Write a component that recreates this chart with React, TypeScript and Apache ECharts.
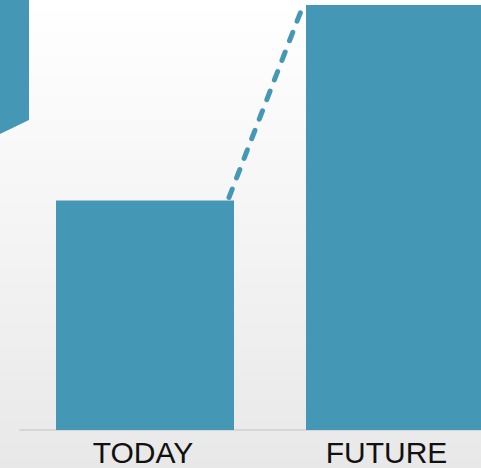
import React, { useEffect, useRef } from "react";
import * as echarts from "echarts";

const categories: string[] = ["TODAY", "FUTURE"];
const values: number[] = [54, 100];
const yMax = 100;

const BAR_COLOR = "#4498b6";
const BAR_WIDTH = 178;

export default function App() {
  const ref = useRef<HTMLDivElement>(null);

  useEffect(() => {
    if (!ref.current) return;
    const chart = echarts.init(ref.current, undefined, { renderer: "svg" });
    chart.setOption({
      animation: false,
      backgroundColor: {
        type: "linear",
        x: 0,
        y: 0,
        x2: 0,
        y2: 1,
        colorStops: [
          { offset: 0, color: "#ffffff" },
          { offset: 0.5, color: "#f4f4f4" },
          { offset: 1, color: "#e8e8e8" },
        ],
      },
      grid: { left: 20, right: 0, top: 5, bottom: 38 },
      graphic: [
        {
          type: "polygon",
          shape: { points: [[0, 0], [29, 0], [29, 120], [0, 134]] },
          style: { fill: BAR_COLOR },
          z: 10,
        },
      ],
      xAxis: {
        type: "category",
        data: categories,
        axisTick: { show: false },
        axisLine: { show: true, lineStyle: { color: "#cfcfcf", width: 1.5 } },
        axisLabel: {
          margin: 7,
          formatter: (v: string) => (v === "TODAY" ? `{a|${v}}` : `{b|${v}}`),
          rich: {
            a: {
              fontFamily: "Liberation Sans, Arial, sans-serif",
              fontSize: 30,
              color: "#111111",
              padding: [0, 4, 0, 0],
            },
            b: {
              fontFamily: "Liberation Sans, Arial, sans-serif",
              fontSize: 30,
              color: "#111111",
              padding: [0, 17, 0, 0],
            },
          },
        },
      },
      yAxis: {
        type: "value",
        min: 0,
        max: yMax,
        show: false,
        splitLine: { show: false },
      },
      series: [
        {
          type: "bar",
          data: values,
          barWidth: BAR_WIDTH,
          itemStyle: { color: BAR_COLOR },
          z: 2,
        },
        {
          type: "custom",
          clip: false,
          z: 3,
          data: [[0, values[0], 1, values[1]]],
          encode: { x: [0, 2], y: [1, 3] },
          renderItem: (params: any, api: any) => {
            const p0 = api.coord([api.value(0), api.value(1)]);
            const p1 = api.coord([api.value(2), api.value(3)]);
            return {
              type: "line",
              shape: {
                x1: p0[0] + BAR_WIDTH / 2 - 5,
                y1: p0[1] - 3,
                x2: p1[0] - BAR_WIDTH / 2 - 5,
                y2: p1[1] + 6,
              },
              style: {
                stroke: BAR_COLOR,
                lineWidth: 5,
                lineDash: [9, 12],
                lineCap: "round",
                fill: null,
              },
            };
          },
        },
      ],
    });
    return () => chart.dispose();
  }, []);

  return (
    <div
      style={{
        position: "fixed",
        left: 0,
        top: 0,
        width: 481,
        height: 468,
        overflow: "hidden",
      }}
    >
      <div ref={ref} style={{ width: 520, height: 468 }} />
    </div>
  );
}
